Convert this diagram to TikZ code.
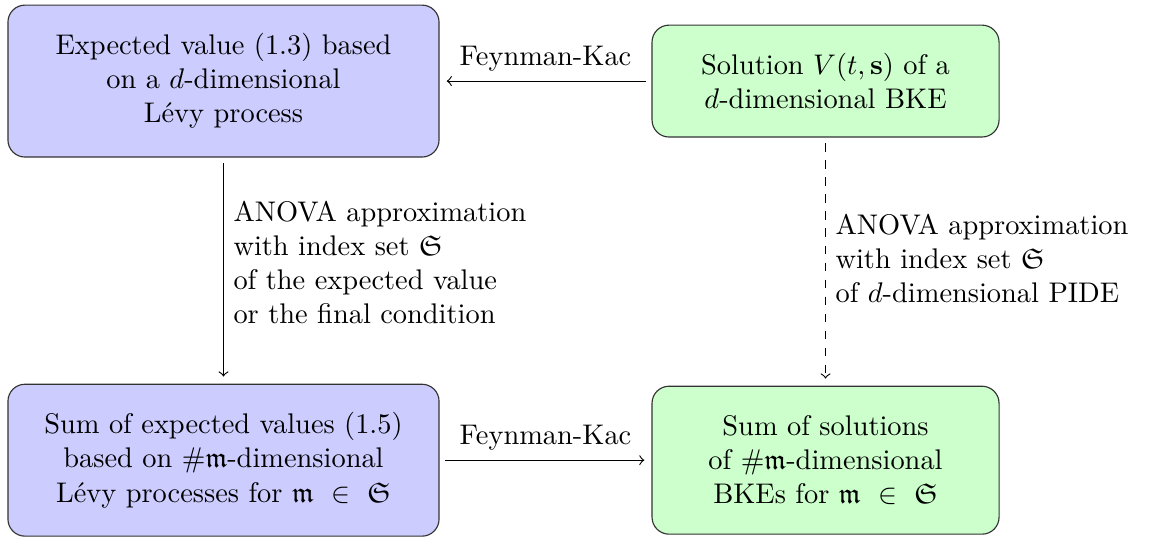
\documentclass[tikz,border=0pt]{standalone}
\usepackage{amssymb}
\usetikzlibrary{arrows}
\usetikzlibrary{positioning}
\tikzset{
    expect/.style={
      rectangle, rounded corners=6pt,
           draw=black!80, fill=blue!20,
           inner sep=2pt,
           text centered, align=center,
           minimum width=151.8pt,
           minimum height=53.5pt,
           },
}
\tikzset{
    solut/.style={
      rectangle, rounded corners=6pt,
           draw=black!80, fill=green!20,
           inner sep=2pt,
           text centered, align=center,
           minimum width=122.2pt,
           minimum height=39.4pt,
           },
}
\tikzset{
    link/.style={
      ->, shorten >=2.5pt, shorten <=2pt,
           },
}
\tikzset{
    anova/.style={
      right, align=left,
           },
}

\begin{document}
\begin{tikzpicture}

\useasboundingbox (0,0) rectangle (405.3pt,-189.4pt);

\node[expect](ev) at (78.7pt,-28.55pt){Expected value (1.3) based\\ on a $d$-dimensional\\ L\'evy process};
\node[solut,right = 74.6pt of ev](sv){Solution $V(t,\mathbf{s})$ of a\\ $d$-dimensional BKE};

\path (sv) edge[link] node[above]{Feynman-Kac} (ev);

\node[expect,below = 79.6pt of ev](sev){Sum of expected values (1.5)\\ based on $\#\mathfrak{m}$-dimensional\\ L\'evy processes for $\mathfrak{m} \ \in \ \mathfrak{S}$};
\node[solut,minimum height=52.1pt,right = 74.6pt of sev](ssv){Sum of solutions\\ of $\#\mathfrak{m}$-dimensional\\ BKEs for $\mathfrak{m} \ \in \ \mathfrak{S}$};

\path (sev) edge[link] node[above]{Feynman-Kac} (ssv);

\path (ev) edge[link] node[anova,yshift=3pt]{ANOVA approximation\\ with index set $\mathfrak{S}$\\ of the expected value\\ or the final condition} (sev);
\path (sv) edge[link,dashed] node[anova,yshift=1pt]{ANOVA approximation\\ with index set $\mathfrak{S}$\\ of $d$-dimensional PIDE} (ssv);

\end{tikzpicture}
\end{document}
